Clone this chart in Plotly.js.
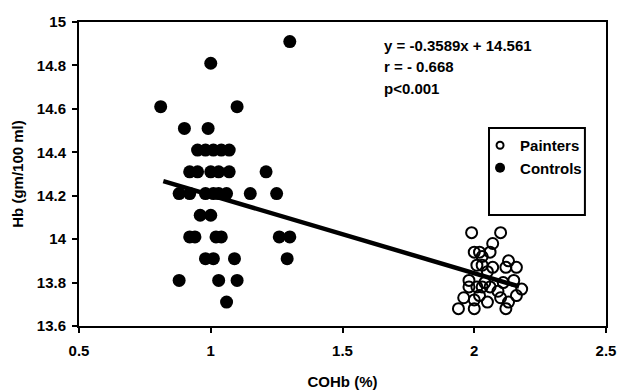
<!DOCTYPE html>
<html>
<head>
<meta charset="utf-8">
<script src="https://cdn.plot.ly/plotly-3.0.1.min.js"></script>
<style>html,body{margin:0;padding:0;background:#fff;}#chart{width:618px;height:392px;}</style>
</head>
<body>
<div id="chart"></div>
<script>
// Controls (filled circles)
const controlsX = [1.30, 1.00, 0.81, 1.10, 0.90, 0.99,
  0.95, 0.98, 1.01, 1.04, 1.07,
  0.92, 0.95, 1.00, 1.03, 1.07, 1.21,
  0.88, 0.92, 0.98, 1.01, 1.03, 1.06, 1.15, 1.25,
  0.96, 1.00,
  0.92, 0.94, 1.02, 1.04, 1.26, 1.30,
  0.98, 1.01, 1.09, 1.29,
  0.88, 1.03, 1.10,
  1.06];
const controlsY = [14.91, 14.81, 14.61, 14.61, 14.51, 14.51,
  14.41, 14.41, 14.41, 14.41, 14.41,
  14.31, 14.31, 14.31, 14.31, 14.31, 14.31,
  14.21, 14.21, 14.21, 14.21, 14.21, 14.21, 14.21, 14.21,
  14.11, 14.11,
  14.01, 14.01, 14.01, 14.01, 14.01, 14.01,
  13.91, 13.91, 13.91, 13.91,
  13.81, 13.81, 13.81,
  13.71];
// Painters (open circles)
const paintersX = [1.99, 2.10, 2.07,
  2.00, 2.02, 2.06, 2.03, 2.13,
  2.01, 2.03, 2.07, 2.12, 2.16, 2.05,
  1.98, 2.15, 2.11, 2.04,
  1.98, 2.01, 2.03, 2.06, 2.18, 2.09,
  1.96, 2.00, 2.05, 2.10, 2.16, 2.13, 2.02,
  1.94, 2.00, 2.12];
const paintersY = [14.03, 14.03, 13.98,
  13.94, 13.94, 13.94, 13.92, 13.90,
  13.88, 13.88, 13.87, 13.87, 13.87, 13.85,
  13.81, 13.81, 13.80, 13.80,
  13.78, 13.78, 13.78, 13.78, 13.77, 13.76,
  13.73, 13.72, 13.71, 13.73, 13.74, 13.71, 13.74,
  13.68, 13.68, 13.68];
// Regression line y = -0.3589x + 14.561 (end points)
const fitX = [0.82, 2.17];
const fitY = [14.267, 13.782];
const xTicks = [0.5, 1, 1.5, 2, 2.5];
const xTickText = ['0.5', '1', '1.5', '2', '2.5'];
const yTicks = [13.6, 13.8, 14, 14.2, 14.4, 14.6, 14.8, 15];
const yTickText = ['13.6', '13.8', '14', '14.2', '14.4', '14.6', '14.8', '15'];
const statLines = ['y = -0.3589x + 14.561', 'r = - 0.668', 'p<0.001'];
const seriesNames = ['Painters', 'Controls'];

const F = 'Liberation Sans, Arial, sans-serif';
const FS = 15;
const traces = [
  {x: fitX, y: fitY, mode: 'lines', line: {color: '#000', width: 4.5}, showlegend: false, hoverinfo: 'skip'},
  {x: paintersX, y: paintersY, mode: 'markers', name: seriesNames[0], showlegend: false,
   marker: {symbol: 'circle-open', size: 11, color: '#000', line: {width: 2, color: '#000'}}},
  {x: controlsX, y: controlsY, mode: 'markers', name: seriesNames[1], showlegend: false,
   marker: {symbol: 'circle', size: 13, color: '#000'}},
  // legend entries (smaller symbols, as in the original legend)
  {x: [null], y: [null], mode: 'markers', name: seriesNames[0], legendgroup: 'p',
   marker: {symbol: 'circle-open', size: 7, color: '#000', line: {width: 2, color: '#000'}}},
  {x: [null], y: [null], mode: 'markers', name: seriesNames[1], legendgroup: 'c',
   marker: {symbol: 'circle', size: 10, color: '#000'}}
];
const annotations = statLines.map((t, i) => ({
  text: t, xref: 'paper', yref: 'paper', x: 0.575, y: 0.924 - i * 0.071,
  xanchor: 'left', yanchor: 'middle', showarrow: false,
  font: {family: F, size: FS, color: '#000', weight: 'bold'}
}));
const layout = {
  width: 618, height: 392,
  margin: {l: 79, r: 12, t: 22, b: 66},
  paper_bgcolor: '#fff', plot_bgcolor: '#fff',
  font: {family: F, size: FS, color: '#000', weight: 'bold'},
  showlegend: true,
  legend: {x: 0.761, y: 0.648, xanchor: 'left', yanchor: 'top', bgcolor: 'rgba(0,0,0,0)',
    borderwidth: 0, tracegroupgap: 9, traceorder: 'normal',
    font: {family: F, size: FS, color: '#000', weight: 'bold'}},
  xaxis: {range: [0.5, 2.5], tickvals: xTicks, ticktext: xTickText, ticks: 'outside', ticklen: 5,
    tickwidth: 2, tickcolor: '#000', showline: true, linewidth: 2, linecolor: '#000', mirror: true,
    showgrid: false, zeroline: false, ticklabelstandoff: 5,
    tickfont: {family: F, size: FS, weight: 'bold'},
    title: {text: 'COHb (%)', standoff: 18, font: {family: F, size: FS, weight: 'bold'}}},
  yaxis: {range: [13.6, 15], tickvals: yTicks, ticktext: yTickText, ticks: 'outside', ticklen: 5,
    tickwidth: 2, tickcolor: '#000', showline: true, linewidth: 2, linecolor: '#000', mirror: true,
    showgrid: false, zeroline: false, ticklabelstandoff: 3,
    tickfont: {family: F, size: FS, weight: 'bold'},
    title: {text: 'Hb (gm/100 ml)', standoff: 10, font: {family: F, size: FS, weight: 'bold'}}},
  shapes: [{type: 'rect', xref: 'paper', yref: 'paper', x0: 0.778, x1: 0.960, y0: 0.365, y1: 0.651,
    line: {color: '#000', width: 2}, fillcolor: 'rgba(0,0,0,0)'}],
  annotations: annotations
};
Plotly.newPlot('chart', traces, layout, {displayModeBar: false, staticPlot: true});
</script>
</body>
</html>
